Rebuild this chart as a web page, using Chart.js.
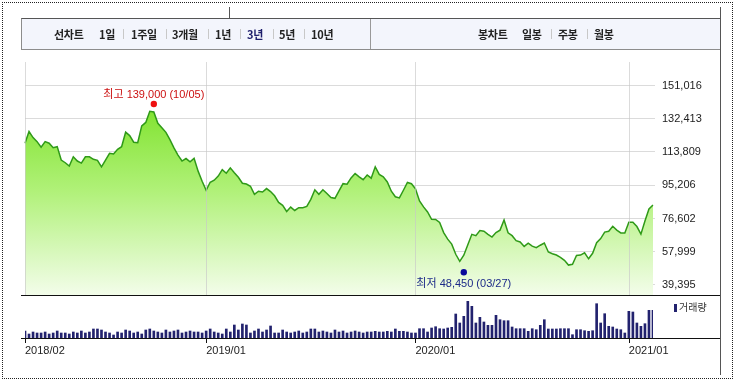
<!DOCTYPE html>
<html><head><meta charset="utf-8">
<script src="https://cdn.jsdelivr.net/npm/chart.js@4.4.1/dist/chart.umd.min.js"></script>
<style>
html,body{margin:0;padding:0;background:#fff;width:736px;height:383px;overflow:hidden;position:relative;}
#c{position:absolute;left:0;top:0;}
.frame{position:absolute;left:2px;top:2px;width:729px;height:375px;border:1px dotted #222;z-index:3;}
.vl{position:absolute;background:#555;width:1px;z-index:3;}
.bar{position:absolute;left:21px;top:18px;width:698px;height:30px;background:#f3f5fc;border:1px solid #8c8c8c;border-top-color:#555;z-index:2;}
.t{position:absolute;top:26px;font:bold 11px 'Noto Sans CJK KR',sans-serif;color:#222;line-height:16px;white-space:nowrap;z-index:4;letter-spacing:-0.3px;}
.s{position:absolute;top:29px;width:1px;height:10px;background:#c8c8c8;z-index:4;}
</style></head>
<body>
<canvas id="c" width="736" height="383"></canvas>
<div class="frame"></div>
<div class="vl" style="left:229px;top:7px;height:11px;"></div>
<div class="vl" style="left:720px;top:7px;height:368px;"></div>
<div class="bar"></div>
<div class="vl" style="left:370px;top:19px;height:30px;background:#999;"></div>
<span class="t" style="left:54px">선차트</span>
<span class="t" style="left:99px">1일</span><span class="s" style="left:123px"></span>
<span class="t" style="left:131px">1주일</span><span class="s" style="left:166px"></span>
<span class="t" style="left:172px">3개월</span><span class="s" style="left:208px"></span>
<span class="t" style="left:215px">1년</span><span class="s" style="left:240px"></span>
<span class="t" style="left:247px;color:#1d1d6b">3년</span><span class="s" style="left:273px"></span>
<span class="t" style="left:279px">5년</span><span class="s" style="left:304px"></span>
<span class="t" style="left:311px">10년</span>
<span class="t" style="left:478px">봉차트</span>
<span class="t" style="left:522px">일봉</span><span class="s" style="left:551px"></span>
<span class="t" style="left:558px">주봉</span><span class="s" style="left:587px"></span>
<span class="t" style="left:594px">월봉</span>
<script>
// ---- data ----
const firstWeek = '2018-02-23';
const price = [
118700,125250,121850,119600,116450,119600,118700,116250,116800,109300,
107800,105900,111150,108750,107600,111150,111100,109700,109150,105500,
109300,113100,112700,115350,116800,124900,123000,119300,119050,128450,
130350,136550,136200,129900,127350,124800,120750,116100,112100,108750,
110150,108350,110250,103100,97450,92400,96900,98000,100300,103950,
101950,104950,102250,99700,96350,95900,94650,90150,91850,91450,
93350,91650,89300,85600,83950,80550,83000,81100,82650,82650,
83350,87300,92650,90150,92650,90550,88300,87900,92100,96100,
95750,99300,101800,99900,98300,100950,99150,105500,101250,99900,
97050,91850,88750,88150,92400,96750,96050,93250,86450,83100,
80250,76150,76050,74350,68700,65050,62250,56600,52650,56050,
61950,67750,67000,69850,69500,67750,66200,68700,70100,75750,
68600,67000,64200,63450,61000,62800,61150,60250,61650,62900,
57850,56900,56150,54900,53200,50550,51000,55900,56150,57450,
54050,57150,63100,65350,69000,69450,72250,70100,68550,68550,
74500,74500,72100,67850,75200,81950,84200];
const volume = [
700,400,600,500,500,600,400,500,700,500,
500,400,600,500,700,500,600,900,900,800,
600,500,300,600,500,800,700,500,600,400,
800,900,700,600,500,800,600,700,800,500,
600,700,600,600,500,700,900,600,500,400,
900,600,1300,800,1400,1300,500,700,900,600,
800,1200,500,500,800,600,500,600,700,500,
600,900,900,600,700,600,500,800,600,700,
500,600,700,600,500,600,600,670,600,600,
670,600,900,670,670,600,500,500,930,930,
600,1000,1130,930,900,1000,1070,2400,1500,2170,
3670,3170,1500,2070,1600,1270,1270,2270,1830,1730,
1730,1100,930,930,930,670,930,830,1270,1830,
900,900,900,930,930,930,330,830,830,730,
670,730,3430,1500,2430,1170,1100,900,830,500,
2670,2600,1500,1170,1430,2770,2770];
const priceTicks = [39395, 57999, 76602, 95206, 113809, 132413, 151016];
const tickDates = ['2018-02-23','2019-01-04','2020-01-03','2021-01-08'];
const tickLabels = ['2018/02','2019/01','2020/01','2021/01'];
const highMark = {date:'2018-10-05', value:139000, label:'최고 139,000 (10/05)'};
const lowMark  = {date:'2020-03-27', value:48450,  label:'최저 48,450 (03/27)'};
const volumeLabel = '거래량';

// weekly category labels
const dates = [];
(function(){ const d0 = new Date(firstWeek + 'T00:00:00Z').getTime();
  for (let i = 0; i < price.length; i++) dates.push(new Date(d0 + i*7*86400000).toISOString().slice(0,10)); })();

// ---- layout constants (axis ranges) ----
const PRICE_MIN = 9741, PRICE_MAX = 164164, FILL_TO = 33800, VOL_MAX = 27600;
const FONT = "'Liberation Sans', Arial, 'Noto Sans CJK KR', sans-serif";
const GRID = 'rgba(200,200,200,0.65)';

const deco = {
  id: 'deco',
  afterDatasetsDraw(chart) {
    const {ctx, chartArea, scales} = chart;
    const sepY = Math.round(scales.y.getPixelForValue(FILL_TO));
    ctx.save();
    ctx.strokeStyle = GRID; ctx.lineWidth = 1;
    tickDates.forEach(d => {
      const x = Math.round(scales.x.getPixelForValue(dates.indexOf(d))) + 0.5;
      ctx.beginPath(); ctx.moveTo(x, chartArea.top); ctx.lineTo(x, sepY); ctx.stroke();
    });
    ctx.restore();
  },
  afterDraw(chart) {
    const {ctx, chartArea, scales} = chart;
    const sepY = Math.round(scales.y.getPixelForValue(FILL_TO));
    const base = Math.round(chartArea.bottom);
    ctx.save();
    ctx.strokeStyle = '#111'; ctx.lineWidth = 1;
    ctx.beginPath(); ctx.moveTo(21, sepY + 0.5); ctx.lineTo(721, sepY + 0.5); ctx.stroke();
    ctx.beginPath(); ctx.moveTo(21, base + 0.5); ctx.lineTo(721, base + 0.5); ctx.stroke();
    tickDates.forEach(d => {
      const x = Math.round(scales.x.getPixelForValue(dates.indexOf(d))) + 0.5;
      ctx.beginPath(); ctx.moveTo(x, base); ctx.lineTo(x, base + 5); ctx.stroke();
    });
    // high / low marks
    ctx.font = '11px ' + FONT; ctx.textAlign = 'center'; ctx.textBaseline = 'middle';
    let x = scales.x.getPixelForValue(dates.indexOf(highMark.date));
    let y = scales.y.getPixelForValue(highMark.value) - 3;
    ctx.fillStyle = '#ee1010'; ctx.beginPath(); ctx.arc(x, y, 3.2, 0, Math.PI*2); ctx.fill();
    ctx.fillStyle = '#cc1111'; ctx.fillText(highMark.label, x, y - 9.5);
    x = scales.x.getPixelForValue(dates.indexOf(lowMark.date));
    y = scales.y.getPixelForValue(lowMark.value) + 3.5;
    ctx.fillStyle = '#0a0a9a'; ctx.beginPath(); ctx.arc(x, y, 3.2, 0, Math.PI*2); ctx.fill();
    ctx.fillStyle = '#1c2a88'; ctx.fillText(lowMark.label, x, y + 11.5);
    // volume legend
    ctx.fillStyle = '#22226e'; ctx.fillRect(chartArea.right + 21, sepY + 9, 3, 8);
    ctx.fillStyle = '#333'; ctx.textAlign = 'left'; ctx.font = '10px ' + FONT;
    ctx.fillText(volumeLabel, chartArea.right + 26, sepY + 13);
    ctx.restore();
  }
};

new Chart(document.getElementById('c'), {
  type: 'line',
  data: {
    labels: dates,
    datasets: [
      { type: 'line', data: price, yAxisID: 'y', borderColor: '#2f9a18', borderWidth: 1.5,
        pointRadius: 0, tension: 0, fill: {value: FILL_TO}, order: 1,
        backgroundColor: (c) => {
          const {chart} = c; const {ctx, chartArea, scales} = chart;
          if (!chartArea) return 'rgba(0,0,0,0)';
          const y0 = scales.y.getPixelForValue(priceTicks[priceTicks.length - 1]);
          const y1 = scales.y.getPixelForValue(FILL_TO);
          const g = ctx.createLinearGradient(0, y0, 0, y1);
          g.addColorStop(0, '#74df1c'); g.addColorStop(0.5, '#b0f178'); g.addColorStop(1, '#f3fdea');
          return g;
        } },
      { type: 'bar', data: volume, yAxisID: 'yv', backgroundColor: '#22226e', barThickness: 2, order: 2 }
    ]
  },
  options: {
    responsive: false, animation: false, events: [],
    layout: {padding: {left: 25, top: 62, right: 0, bottom: 0}},
    plugins: {legend: {display: false}, tooltip: {enabled: false}},
    scales: {
      x: { type: 'category', offset: false,
        grid: {display: false, drawTicks: false}, border: {display: false},
        afterBuildTicks: s => { s.ticks = tickDates.map(d => ({value: dates.indexOf(d)})); },
        ticks: {autoSkip: false, maxRotation: 0, align: 'start', padding: 6, color: '#222',
          font: {family: FONT, size: 11}, callback: (v, i) => tickLabels[i]},
        afterFit: s => { s.height = 45; } },
      y: { position: 'right', min: PRICE_MIN, max: PRICE_MAX, z: 1,
        afterBuildTicks: s => { s.ticks = priceTicks.map(v => ({value: v})); },
        grid: {color: GRID, tickLength: 2, lineWidth: 1}, border: {display: false},
        ticks: {padding: 7, color: '#222', font: {family: FONT, size: 11},
          callback: v => Number(v).toLocaleString('en-US')},
        afterFit: s => { s.width = 83; } },
      yv: { position: 'right', display: false, min: 0, max: VOL_MAX }
    }
  },
  plugins: [deco]
});
</script>
</body></html>
